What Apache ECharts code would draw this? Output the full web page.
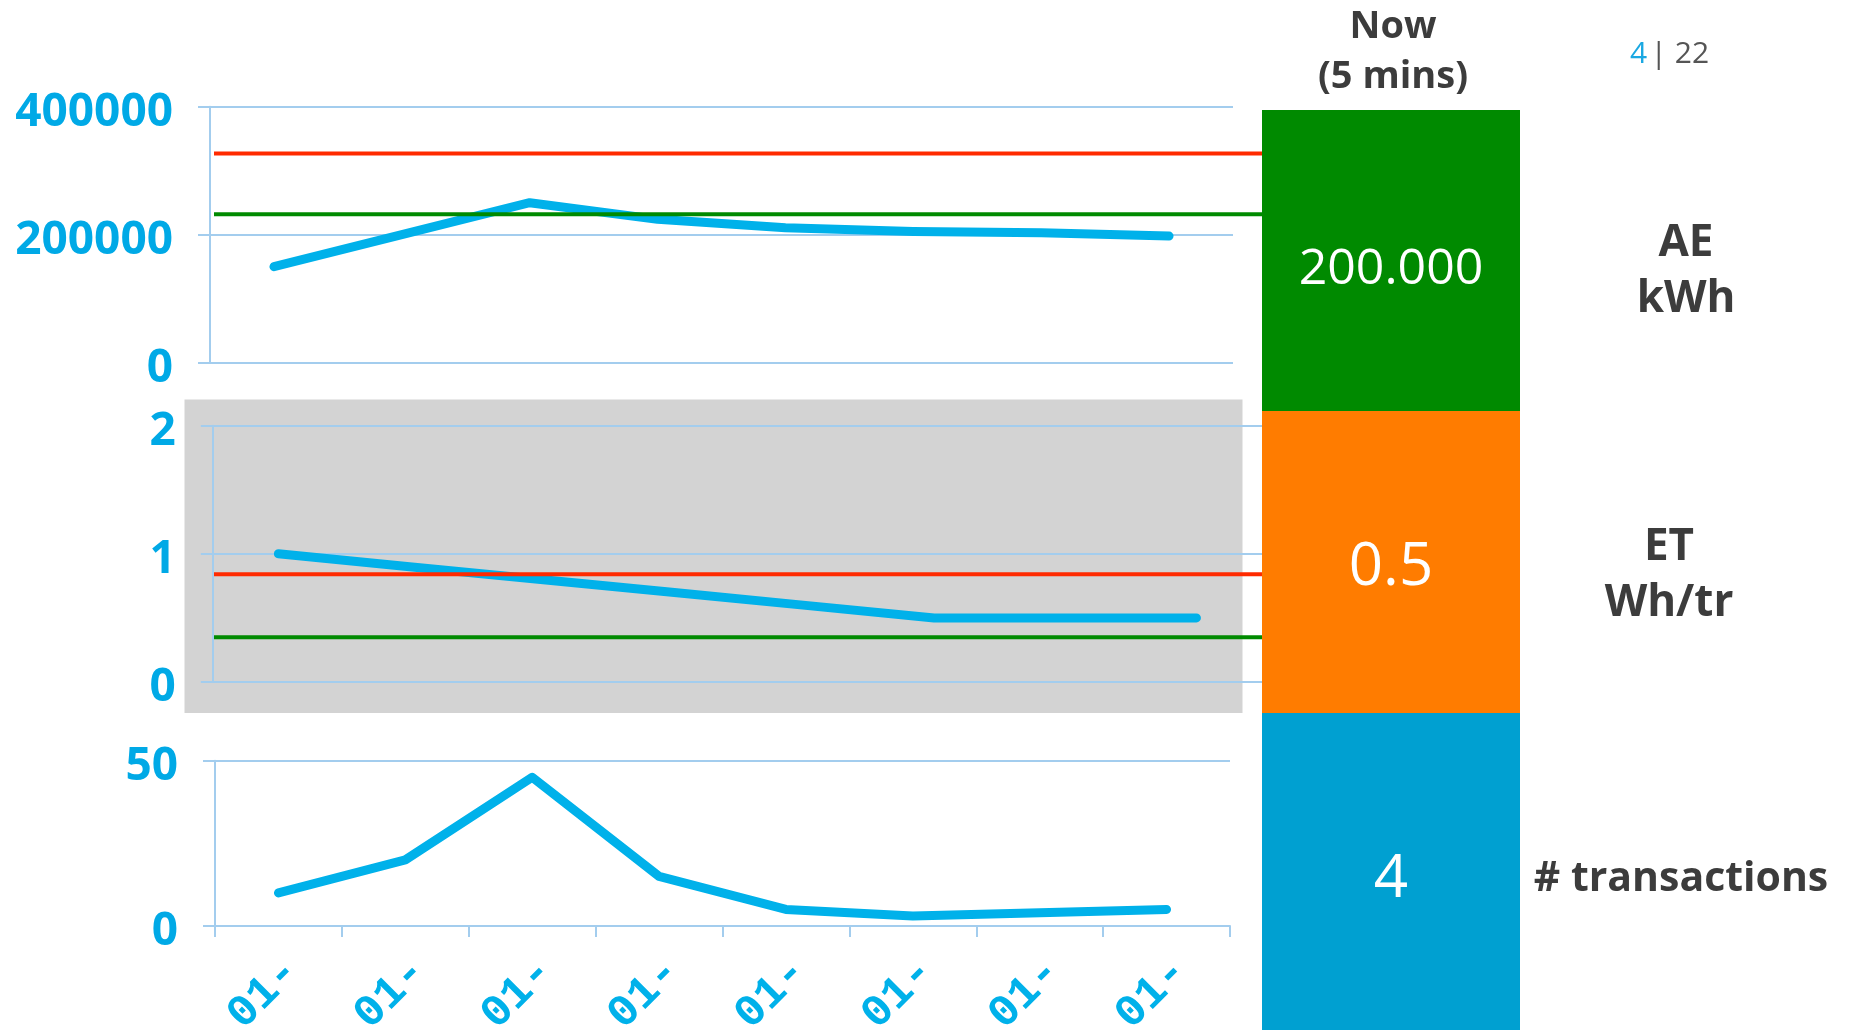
<!DOCTYPE html>
<html><head><meta charset="utf-8">
<script src="https://cdn.jsdelivr.net/npm/echarts@6/dist/echarts.min.js"></script>
<style>html,body{margin:0;padding:0;background:#fff}#c{width:1854px;height:1030px}</style>
</head><body><div id="c"></div>
<script>
// ---- data ----
const categories = ['01-', '01-', '01-', '01-', '01-', '01-', '01-', '01-'];
const aeValues = [150000, 200000, 250000, 224000, 211000, 205000, 203000, 198000];
const etValues = [1.0, 0.9, 0.8, 0.7, 0.6, 0.5, 0.5, 0.5];
const txValues = [10, 20, 45, 15, 5, 3, 4, 5];
const aeLimits = [327000, 232000];   // red, green
const etLimits = [0.84, 0.35];       // red, green
const aeTicks = [0, 200000, 400000];
const etTicks = [0, 1, 2];
const txTicks = [0, 50];
const nowValues = ['200.000', '0.5', '4'];
const nowLabels = ['AE\nkWh', 'ET\nWh/tr', '# transactions'];
const nowTitle = 'Now\n(5 mins)';
const pageCurrent = '4';
const pageTotal = '22';

// ---- style ----
const LINE = '#00b1ea', LABEL = '#00a9e6', GRIDC = '#a3cdee', RED = '#ff2a00', GREEN = '#008a00';
const FONT = '"Open Sans", "Noto Sans", sans-serif';

function yMain(gi, ticks) {
  return {
    gridIndex: gi, type: 'value', min: ticks[0], max: ticks[ticks.length - 1], interval: ticks[1] - ticks[0],
    axisLine: { show: true, lineStyle: { color: GRIDC, width: 2 } },
    axisTick: { show: true, length: 12, lineStyle: { color: GRIDC, width: 2 } },
    splitLine: { show: true, lineStyle: { color: GRIDC, width: 2 } },
    axisLabel: { margin: 37, color: LABEL, fontFamily: FONT, fontWeight: 'bold', fontSize: 46,
      formatter: v => '{a|' + v + '}',
      rich: { a: { color: LABEL, fontFamily: FONT, fontWeight: 'bold', fontSize: 46, padding: [12, 0, 0, 0] } } }
  };
}
function xHidden(gi) {
  return { gridIndex: gi, type: 'category', data: categories, show: true,
    axisLine: { show: false }, axisTick: { show: false }, axisLabel: { show: false }, splitLine: { show: false } };
}
function xVal(gi) { return { gridIndex: gi, type: 'value', min: 0, max: 1, show: false }; }
function yVal(gi, ticks) { return { gridIndex: gi, type: 'value', min: ticks[0], max: ticks[ticks.length - 1], show: false }; }
function limitLine(xi, v, color) {
  return { type: 'line', xAxisIndex: xi, yAxisIndex: xi, data: [[0, v], [1, v]], symbol: 'none', silent: true, z: 5,
    lineStyle: { color: color, width: 4 } };
}
function dataLine(xi, vals) {
  return { type: 'line', xAxisIndex: xi, yAxisIndex: xi, data: vals, symbol: 'none', silent: true, z: 3,
    lineStyle: { color: LINE, width: 9, cap: 'round', join: 'round' } };
}

const G = { outerBoundsMode: 'none', containLabel: false };
const grids = [
  Object.assign({ left: 210, top: 106.7, width: 1023, height: 256 }, G),                 // 0 AE chart
  Object.assign({ left: 214, top: 106.7, width: 1048, height: 256 }, G),                 // 1 AE limits
  Object.assign({ left: 184.5, top: 399.6, width: 1058, height: 313.4, show: true, backgroundColor: '#d3d3d3', borderWidth: 0, z: -1 }, G), // 2 bg
  Object.assign({ left: 212.8, top: 425.7, width: 1049.2, height: 256.3 }, G),           // 3 ET chart
  Object.assign({ left: 214, top: 425.7, width: 1048, height: 256.3 }, G),               // 4 ET limits
  Object.assign({ left: 215, top: 760.7, width: 1015, height: 165.3 }, G),               // 5 transactions
  Object.assign({ left: 229, top: 760.7, width: 1015, height: 165.3 }, G)                // 6 tick labels
];

const xAxes = [
  xHidden(0), xVal(1), xVal(2), xHidden(3), xVal(4),
  { gridIndex: 5, type: 'category', data: categories,
    axisLine: { show: true, lineStyle: { color: GRIDC, width: 2 } },
    axisTick: { show: true, length: 11, lineStyle: { color: GRIDC, width: 2 } },
    axisLabel: { show: false } },
  { gridIndex: 6, type: 'category', data: categories,
    axisLine: { show: false }, axisTick: { show: false },
    axisLabel: { interval: 0, rotate: 45, margin: 39, color: LINE, fontFamily: '"Liberation Mono", "Courier New", monospace', fontWeight: 'bold', fontSize: 45 } }
];
const yAxes = [
  yMain(0, aeTicks), yVal(1, aeTicks), yVal(2, [0, 1]), yMain(3, etTicks), yVal(4, etTicks), yMain(5, txTicks), yVal(6, txTicks)
];

const series = [
  dataLine(0, aeValues),
  limitLine(1, aeLimits[0], RED), limitLine(1, aeLimits[1], GREEN),
  dataLine(3, etValues),
  limitLine(4, etLimits[0], RED), limitLine(4, etLimits[1], GREEN),
  dataLine(5, txValues)
];

const BOX_X = 1262, BOX_W = 258;
const boxes = [
  { y: 110, h: 301, color: '#008a00', vy: 270, fs: 50, lx: 1686, ly: 271.5, lfs: 44 },
  { y: 411, h: 302, color: '#ff7c00', vy: 568, fs: 60, lx: 1669, ly: 575.5, lfs: 44 },
  { y: 713, h: 317, color: '#00a0d1', vy: 880, fs: 60, lx: 1681, ly: 879, lfs: 41 }
];
const graphic = [];
boxes.forEach((b, i) => {
  graphic.push({ type: 'rect', z: 10, shape: { x: BOX_X, y: b.y, width: BOX_W, height: b.h }, style: { fill: b.color } });
  graphic.push({ type: 'text', z: 11, x: BOX_X + BOX_W / 2, y: b.vy,
    style: { text: nowValues[i], fill: '#ffffff', font: b.fs + 'px ' + FONT, align: 'center', verticalAlign: 'middle' } });
  graphic.push({ type: 'text', z: 11, x: b.lx, y: b.ly,
    style: { text: nowLabels[i], fill: '#3c3c3c', font: 'bold ' + b.lfs + 'px ' + FONT, lineHeight: 56.5, align: 'center', verticalAlign: 'middle' } });
});
graphic.push({ type: 'text', z: 11, x: 1393, y: 52,
  style: { text: nowTitle, fill: '#3c3c3c', font: 'bold 38px ' + FONT, lineHeight: 50, align: 'center', verticalAlign: 'middle' } });
graphic.push({ type: 'text', z: 11, x: 1630, y: 54,
  style: { text: '{a|' + pageCurrent + '} {b|| ' + pageTotal + '}', align: 'left', verticalAlign: 'middle',
    rich: { a: { fill: '#1aa8e2', font: '30px ' + FONT }, b: { fill: '#555555', font: '30px ' + FONT } } } });

const chart = echarts.init(document.getElementById('c'), null, { renderer: 'canvas' });
chart.setOption({
  animation: false,
  backgroundColor: '#ffffff',
  grid: grids,
  xAxis: xAxes,
  yAxis: yAxes,
  series: series,
  graphic: graphic
});
</script>
</body></html>
